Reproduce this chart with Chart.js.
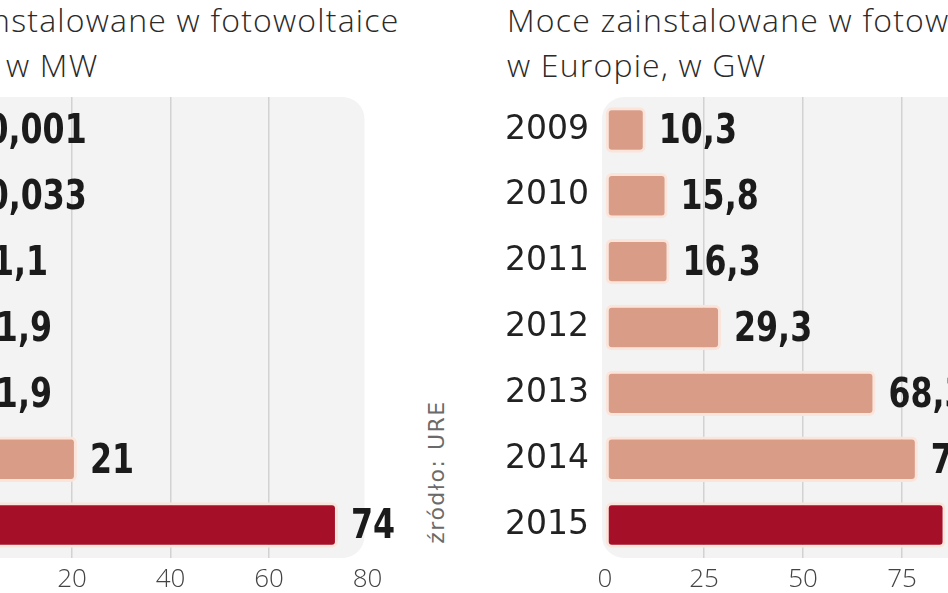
<!DOCTYPE html>
<html>
<head>
<meta charset="utf-8">
<script src="https://cdn.jsdelivr.net/npm/chart.js@4.4.1/dist/chart.umd.min.js"></script>
<style>
html, body { margin: 0; padding: 0; width: 948px; height: 593px; overflow: hidden; background: #fff; }
body { position: relative; }
canvas { position: absolute; top: 0; }
#plChart { left: -200px; }
#euChart { left: 480px; }
.title { position: absolute; top: -3px; font-family: 'Open Sans', sans-serif; font-weight: 300; font-size: 32px; letter-spacing: 1.2px; line-height: 45px; color: #2a2a2a; white-space: nowrap; }
#plTitle { left: -145px; }
#euTitle { left: 507px; }
#source { position: absolute; left: 436px; top: 472px; transform: translate(-50%, -50%) rotate(-90deg); font-family: 'DejaVu Sans', sans-serif; font-size: 22px; letter-spacing: 1.5px; color: #6a6a6a; white-space: nowrap; }
</style>
</head>
<body>
<div class="title" id="plTitle">Moce zainstalowane w fotowoltaice<br>w Polsce, w MW</div>
<div class="title" id="euTitle">Moce zainstalowane w fotowoltaice<br>w Europie, w GW</div>
<div id="source">źródło: URE</div>
<canvas id="plChart" width="640" height="593"></canvas>
<canvas id="euChart" width="640" height="593"></canvas>
<script>
const years = ['2009', '2010', '2011', '2012', '2013', '2014', '2015'];
const polandMW = [0.001, 0.033, 1.1, 1.9, 1.9, 21, 74];
const europeGW = [10.3, 15.8, 16.3, 29.3, 68.3, 79, 86];

const salmon = '#d99c86';
const darkRed = '#a50f27';

const fmt = v => String(v).replace('.', ',');

// light rounded panel behind the bars
const panel = {
    id: 'panel',
    beforeDraw(chart) {
        const { ctx, chartArea: a } = chart;
        ctx.save();
        ctx.fillStyle = '#f3f3f3';
        ctx.beginPath();
        ctx.roundRect(a.left - 3, a.top, a.right - a.left, a.bottom - a.top, 22);
        ctx.fill();
        ctx.restore();
    }
};

// numbers printed after each bar (squeezed a bit to look condensed)
const valueLabels = {
    id: 'valueLabels',
    afterDatasetsDraw(chart) {
        const { ctx } = chart;
        const values = chart.data.datasets[0].data;
        ctx.save();
        ctx.font = 'bold 40px "DejaVu Sans Condensed", "Liberation Sans Narrow", sans-serif';
        ctx.fillStyle = '#1b1b1b';
        ctx.textBaseline = 'middle';
        chart.getDatasetMeta(0).data.forEach((bar, i) => {
            ctx.save();
            ctx.translate(bar.x + 13, bar.y + 3);
            ctx.scale(0.88, 1);
            ctx.fillText(fmt(values[i]), 0, 0);
            ctx.restore();
        });
        ctx.restore();
    }
};

function makeChart(id, values, max, step, axisWidth, rightPad) {
    const last = values.length - 1;
    return new Chart(document.getElementById(id), {
        type: 'bar',
        data: {
            labels: years,
            datasets: [{
                data: values,
                backgroundColor: c => c.dataIndex === last ? darkRed : salmon,
                borderColor: '#fbe4da',
                borderWidth: 3,
                borderRadius: 6,
                borderSkipped: false,
                barPercentage: 0.69,
                categoryPercentage: 1
            }]
        },
        options: {
            indexAxis: 'y',
            responsive: false,
            animation: false,
            layout: { padding: { top: 97, right: rightPad, left: 0, bottom: 0 } },
            plugins: { legend: { display: false }, tooltip: { enabled: false } },
            scales: {
                x: {
                    min: 0,
                    max: max,
                    ticks: {
                        stepSize: step,
                        padding: 6,
                        color: '#444',
                        font: { family: 'Open Sans', weight: '300', size: 26 }
                    },
                    grid: {
                        drawTicks: false,
                        lineWidth: 1.5,
                        color: c => (c.tick && (c.tick.value === 0 || c.tick.value === max)) ? 'rgba(0,0,0,0)' : '#d2d2d2'
                    },
                    border: { display: false },
                    afterFit: s => { s.height = 35; }
                },
                y: {
                    ticks: {
                        padding: 8,
                        color: '#222',
                        font: { family: 'DejaVu Sans', size: 33 }
                    },
                    grid: { display: false },
                    border: { display: false },
                    afterFit: s => { s.width = axisWidth; }
                }
            }
        },
        plugins: [panel, valueLabels]
    });
}

makeChart('plChart', polandMW, 80, 20, 173.5, 72.5);
makeChart('euChart', europeGW, 100, 25, 125, 119);
</script>
</body>
</html>
